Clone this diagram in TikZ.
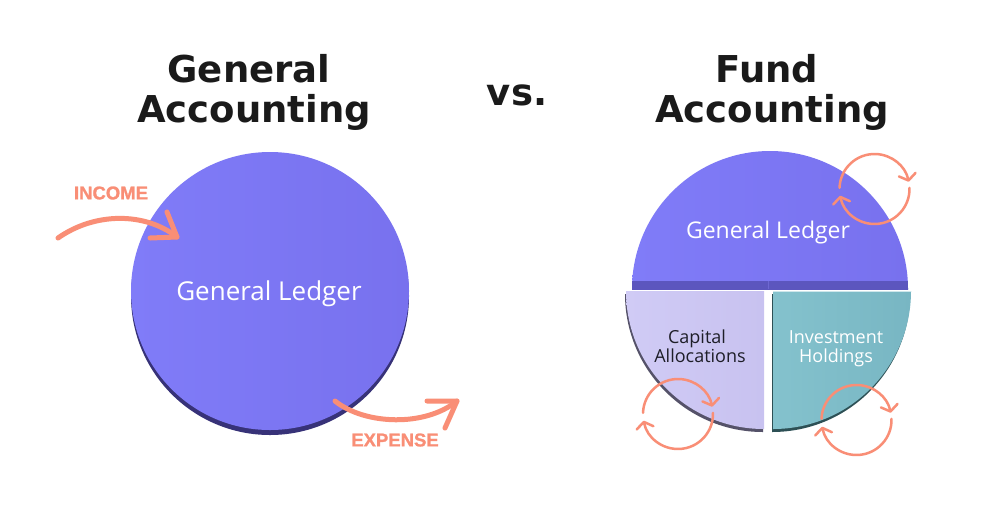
\documentclass[tikz,border=0pt]{standalone}
\usepackage{fontspec}
\setmainfont{Open Sans}
\newfontfamily\titlef{DejaVu Sans}
\newfontfamily\labf{Liberation Sans Bold}[FakeBold=1.2]
\usetikzlibrary{arrows.meta}
\definecolor{titleblack}{RGB}{26,26,26}
\definecolor{gla}{RGB}{128,124,248}
\definecolor{glb}{RGB}{120,113,238}
\definecolor{gldark}{RGB}{55,50,120}
\definecolor{band}{RGB}{92,86,190}
\definecolor{bandline}{RGB}{110,104,210}
\definecolor{lav}{RGB}{208,203,245}
\definecolor{lavb}{RGB}{200,194,240}
\definecolor{lavshadow}{RGB}{85,82,105}
\definecolor{tealc}{RGB}{132,194,205}
\definecolor{tealb}{RGB}{120,182,195}
\definecolor{tealshadow}{RGB}{45,80,85}
\definecolor{salmon}{RGB}{249,142,118}
\definecolor{darktext}{RGB}{30,30,40}
\begin{document}
\begin{tikzpicture}[x=1pt,y=-1pt,
  title/.style={font=\titlef\bfseries\fontsize{37}{40}\selectfont, text=titleblack, anchor=base, inner sep=0pt},
  gltext/.style={text=white, anchor=base, inner sep=0pt},
  qtext/.style={anchor=base, inner sep=0pt, font=\fontsize{18}{20}\selectfont},
  flow/.style={draw=salmon, line width=5pt, line cap=round, line join=round},
  cyc/.style={draw=salmon, line width=2.5pt, line cap=round, -{Straight Barb[length=6pt,width=17pt,round]}},
  lab/.style={font=\labf\fontsize{18.5}{20}\selectfont, text=salmon, inner sep=0pt}]
\useasboundingbox (0,0) rectangle (1000,523);
\fill[white] (0,0) rectangle (1000,523);

% titles
\node[title] (t1) at (249,82) {General};
\node[title] (t2) at (254,122) {Accounting};
\node[title] (vs) at (517,105) {vs.};
\node[title] (t3) at (767,82) {Fund};
\node[title] (t4) at (772,122) {Accounting};

% left ledger circle
\fill[gldark] (270,296) circle[radius=139pt];
\shade[left color=gla, right color=glb] (270,291) circle[radius=139pt];
\node[gltext, font=\fontsize{26}{28}\selectfont] (glL) at (269,300) {General Ledger};

% income arrow
\coordinate (inS) at (58,238);
\coordinate (inT) at (177,237);
\coordinate (inB1) at (167,212);
\coordinate (inB2) at (150,238);
\draw[flow] (inS) .. controls (95,212) and (145,212) .. (inT);
\draw[flow] (inB1) -- (inT) -- (inB2);
\node[lab] (inc) at (111,193) {INCOME};

% expense arrow
\coordinate (exS) at (335,401);
\coordinate (exT) at (457,401);
\coordinate (exB1) at (427,401);
\coordinate (exB2) at (445,428);
\draw[flow] (exS) .. controls (365,425) and (425,427) .. (exT);
\draw[flow] (exB1) -- (exT) -- (exB2);
\node[lab] (exp) at (395,440) {EXPENSE};

% right: general ledger half disc
\shade[left color=gla, right color=glb] (632,289) arc[start angle=180,end angle=0,radius=138pt] -- cycle;
\begin{scope}
  \clip (770,289) circle[radius=138pt];
  \fill[band] (620,281) rectangle (920,289.5);
\end{scope}
\draw[bandline, line width=0.8pt] (768,281) -- (768,289);
\node[gltext, font=\fontsize{23}{25}\selectfont] (glR) at (768,238) {General Ledger};

% capital allocations quarter
\fill[lavshadow] (763,294) -- (625,294) arc[start angle=180,end angle=270,radius=138pt] -- cycle;
\shade[left color=lav, right color=lavb] (764,291) -- (626,291) arc[start angle=180,end angle=270,radius=138pt] -- cycle;
\node[qtext, text=darktext] (cap1) at (697,343) {Capital};
\node[qtext, text=darktext] (cap2) at (700,362) {Allocations};

% investment holdings quarter
\fill[tealshadow] (772,294) -- (910,294) arc[start angle=0,end angle=-90,radius=138pt] -- cycle;
\shade[left color=tealc, right color=tealb] (773,291) -- (911,291) arc[start angle=0,end angle=-90,radius=138pt] -- cycle;
\draw[white!60!tealc, line width=1pt] (773,291.5) -- (911,291.5);
\node[qtext, text=white] (inv1) at (836,343) {Investment};
\node[qtext, text=white] (inv2) at (836,362) {Holdings};

% cycles
\coordinate (c1) at (874.5,189);
\coordinate (c2) at (678,414);
\coordinate (c3) at (856.5,420);
\foreach \c in {c1,c2,c3}{
  \draw[cyc] (\c) ++(178:35pt) arc[start angle=178,end angle=12,radius=35pt];
  \draw[cyc] (\c) ++(2:35pt) arc[start angle=2,end angle=-169,radius=35pt];
}
\end{tikzpicture}
\end{document}
